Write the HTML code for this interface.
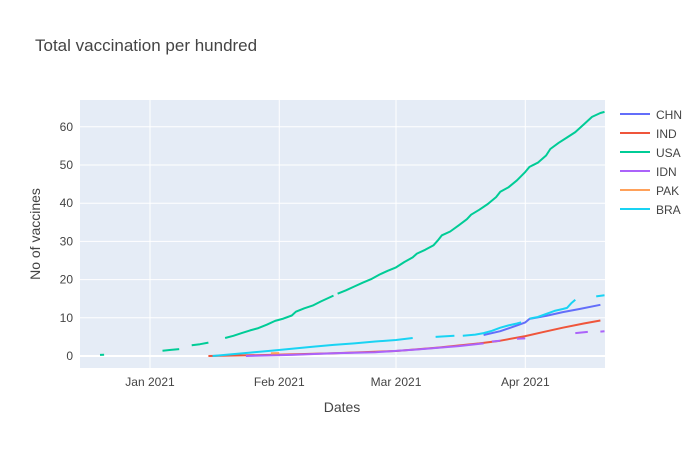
<!DOCTYPE html>
<html><head><meta charset="utf-8"><style>
body{margin:0;background:#fff;font-family:"Liberation Sans",sans-serif}
svg text{font-family:"Liberation Sans",sans-serif;fill:#444}
</style></head><body>
<svg id="c" width="700" height="450">
<rect x="80" y="100" width="525" height="268" fill="#e5ecf6"/>
<g id="grid"></g><g id="lines"></g><g id="ticks"></g>
<text x="35" y="51" font-size="17">Total vaccination per hundred</text>
<text x="342" y="412" font-size="14" text-anchor="middle">Dates</text>
<text transform="translate(40,234) rotate(-90)" font-size="14" text-anchor="middle">No of vaccines</text>
<g id="legend"></g>
</svg>
<script>
const yTicks=[0,10,20,30,40,50,60];
const xTickDays=[31,62,90,121];
const xTickLabels=["Jan 2021","Feb 2021","Mar 2021","Apr 2021"];
const names=["CHN","IND","USA","IDN","PAK","BRA"];
const colors=["#636efa","#EF553B","#00cc96","#ab63fa","#FFA15A","#19d3f3"];
// days counted from Dec 1 2020; null = gap
const chnDays=[111,115,119,121,122,126,130,134,139];
const chnVals=[5.5,6.5,8.0,8.8,9.7,10.5,11.5,12.3,13.4];
const indDays=[45,60,75,90,100,110,115,121,125,130,135,139];
const indVals=[0,0.3,0.7,1.3,2.2,3.3,4.0,5.2,6.2,7.4,8.5,9.3];
const usaDays=[19,20,21,34,36,38,39,41,43,45,46,49,51,53,55,57,59,61,63,65,66,68,70,72,75,75.5,76,78,80,82,84,86,88,90,92,94,95,97,99,100,101,103,105,107,108,110,112,114,115,117,119,121,122,124,126,127,129,131,133,135,137,139,140];
const usaVals=[0.3,0.35,null,1.4,1.6,1.8,null,2.8,3.1,3.5,null,4.7,5.3,6.0,6.7,7.3,8.2,9.2,9.8,10.6,11.6,12.5,13.2,14.3,15.8,null,16.3,17.2,18.2,19.2,20.1,21.3,22.3,23.2,24.6,25.8,26.8,27.8,29.0,30.2,31.6,32.6,34.2,35.8,37.0,38.3,39.8,41.6,43.0,44.2,46.0,48.2,49.5,50.6,52.5,54.2,55.8,57.2,58.6,60.6,62.6,63.6,63.9];
const idnDays=[54,65,75,85,95,105,111,112,113,115,116,119,121,122,133,136,137,139,140];
const idnVals=[0,0.3,0.7,1.0,1.7,2.6,3.3,null,3.8,4.0,null,4.5,4.6,null,6.0,6.3,null,6.4,6.5];
const pakDays=[60,62];
const pakVals=[0.7,0.75];
const braDays=[46,50,55,60,65,70,75,80,85,90,94,95,99.5,104,105,106,109,111,113,115,117,119,120,121,122,124,126,128,130,131,132,133,134,138,140];
const braVals=[0,0.4,0.9,1.4,1.9,2.4,2.9,3.3,3.8,4.2,4.7,null,5.0,5.3,null,5.3,5.6,6.0,6.6,7.4,8.0,8.5,8.8,null,9.8,10.2,11.0,11.8,12.3,12.6,13.8,14.7,null,15.6,15.9];
const series=[[chnDays,chnVals],[indDays,indVals],[usaDays,usaVals],[idnDays,idnVals],[pakDays,pakVals],[braDays,braVals]];
const X=d=>150+(d-31)*4.17, Y=v=>356-v*3.82;
const NS="http://www.w3.org/2000/svg";
function mk(t,a,p){const e=document.createElementNS(NS,t);for(const k in a)e.setAttribute(k,a[k]);p.appendChild(e);return e;}
const g=document.getElementById("grid"),tk=document.getElementById("ticks");
yTicks.forEach(v=>{
 const l=mk("line",{x1:80,x2:605,y1:Y(v),y2:Y(v),stroke:"#fff","stroke-width":v===0?2:1},g);
 
 
 const t=mk("text",{x:73,y:Y(v)+4,"font-size":12,"text-anchor":"end"},tk);t.textContent=v;
 
 
});
xTickDays.forEach((d,i)=>{
 const l=mk("line",{x1:X(d),x2:X(d),y1:100,y2:368,stroke:"#fff","stroke-width":1},g);
 
 
 const t=mk("text",{x:X(d),y:386,"font-size":12,"text-anchor":"middle"},tk);t.textContent=xTickLabels[i];
 
 
});
const lg=document.getElementById("lines");
series.forEach(([ds,vs],i)=>{
 let d="",pen=false;
 ds.forEach((day,j)=>{const v=vs[j];if(v===null){pen=false;return;}d+=(pen?"L":"M")+X(day).toFixed(1)+","+Y(v).toFixed(1);pen=true;});
 const p=mk("path",{d:d,fill:"none",stroke:colors[i],"stroke-width":2,"stroke-linejoin":"round"},lg);
 
 
});
const leg=document.getElementById("legend");
names.forEach((n,i)=>{
 const y=114+i*19;
 const gr=mk("g",{},leg);
 
 
 mk("line",{x1:620,x2:650,y1:y,y2:y,stroke:colors[i],"stroke-width":2},gr);
 const t=mk("text",{x:656,y:y+5,"font-size":12},gr);t.textContent=n;
});
</script>
</body></html>
